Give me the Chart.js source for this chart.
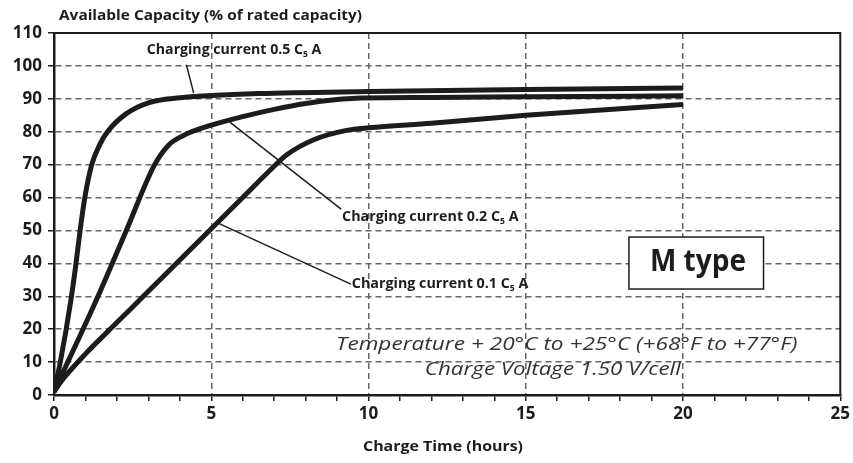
<!DOCTYPE html>
<html>
<head>
<meta charset="utf-8">
<script src="https://cdn.jsdelivr.net/npm/chart.js@4/dist/chart.umd.min.js"></script>
<style>
  html, body { margin: 0; padding: 0; background: #fff; }
  #wrap { width: 853px; height: 463px; position: relative; }
</style>
</head>
<body>
<div id="wrap"><canvas id="chart"></canvas></div>
<script>
// ─── DATA ────────────────────────────────────────────────────────────────
const xTicks = [0, 5, 10, 15, 20, 25];
const yTicks = [0, 10, 20, 30, 40, 50, 60, 70, 80, 90, 100, 110];

const seriesNames = ['Charging current 0.5 C', 'Charging current 0.2 C', 'Charging current 0.1 C'];

const c05Hours = [0, 0.2, 0.54, 0.7, 0.83, 0.98, 1.2, 1.45, 1.7, 2.3, 3, 4, 5, 6.5, 10, 15, 20];
const c05Cap   = [1, 10, 29, 40, 50, 60, 70, 76, 80, 85.5, 88.8, 90.3, 91, 91.6, 92.2, 92.8, 93.3];

const c02Hours = [0, 1.4, 2.3, 3.2, 3.65, 4.1, 5, 6, 7, 8, 9, 9.6, 12, 15, 20];
const c02Cap   = [1, 30, 50, 70, 76, 78.8, 82, 84.6, 86.8, 88.6, 89.8, 90.2, 90.4, 90.6, 90.9];

const c01Hours = [0, 0.3, 1, 2, 3, 4, 5, 6, 7, 7.4, 8.3, 9.3, 10, 12, 15, 20];
const c01Cap   = [1, 5, 12.5, 22, 31.5, 41, 50.5, 60, 69.5, 73, 77.7, 80.4, 81.2, 82.6, 85, 88.3];

const notes = ['Temperature + 20°C to +25°C (+68°F to +77°F)', 'Charge Voltage 1.50 V/cell'];

// ─── HELPERS ─────────────────────────────────────────────────────────────
const INK = '#1c1c1c';
const FONT = "'Open Sans', 'DejaVu Sans', sans-serif";

function pts(xs, ys) { return xs.map((x, i) => ({ x, y: ys[i] })); }

function curve(label, xs, ys) {
  return {
    label, data: pts(xs, ys),
    borderColor: INK, borderWidth: 5, pointRadius: 0,
    cubicInterpolationMode: 'monotone', fill: false, borderCapStyle: 'butt'
  };
}

// draw text squeezed/stretched to a given width, left edge at x, middle at y
function fitText(ctx, parts, x, y, w) {
  let total = 0;
  parts.forEach(p => { ctx.font = p.font; total += ctx.measureText(p.t).width; });
  ctx.save();
  ctx.translate(x, y);
  ctx.scale(w / total, 1);
  ctx.textAlign = 'left'; ctx.textBaseline = 'middle';
  let cx = 0;
  parts.forEach(p => {
    ctx.font = p.font;
    ctx.fillText(p.t, cx, p.dy || 0);
    cx += ctx.measureText(p.t).width;
  });
  ctx.restore();
}

function subParts(text, size) {
  const b = 'bold ' + size + 'px ' + FONT;
  return [{ t: text, font: b }, { t: '5', font: 'bold ' + Math.round(size * 0.6) + 'px ' + FONT, dy: size * 0.3 }, { t: ' A', font: b }];
}

const decor = {
  id: 'decor',
  afterDatasetsDraw(chart) {
    const { ctx, chartArea: a, scales: { x, y } } = chart;
    const px = v => x.getPixelForValue(v), py = v => y.getPixelForValue(v);
    ctx.save();
    // frame top + right
    ctx.strokeStyle = INK; ctx.lineWidth = 2;
    ctx.beginPath();
    ctx.moveTo(a.left, a.top); ctx.lineTo(a.right, a.top); ctx.lineTo(a.right, a.bottom);
    ctx.stroke();

    // leader lines
    ctx.lineWidth = 1.5;
    const leaders = [[4.21, 100.3, 4.44, 91.8], [5.58, 83, 9.13, 56.5], [5.2, 52.3, 9.44, 33.7]];
    leaders.forEach(l => {
      ctx.beginPath(); ctx.moveTo(px(l[0]), py(l[1])); ctx.lineTo(px(l[2]), py(l[3])); ctx.stroke();
    });

    ctx.fillStyle = INK;
    fitText(ctx, subParts(seriesNames[0], 15), px(2.95), py(104.8), px(8.5) - px(2.95));
    fitText(ctx, subParts(seriesNames[1], 15), px(9.16), py(54.2), px(14.77) - px(9.16));
    fitText(ctx, subParts(seriesNames[2], 15), px(9.47), py(33.7), px(15.08) - px(9.47));

    // conditions text
    ctx.fillStyle = '#333';
    const it = 'italic 19px ' + FONT;
    fitText(ctx, [{ t: notes[0], font: it }], px(8.97), py(15.2), px(23.64) - px(8.97));
    fitText(ctx, [{ t: notes[1], font: it }], px(11.79), py(7.6), px(19.93) - px(11.79));

    // M type box
    const bx = px(18.28), by = py(48), bw = px(22.56) - bx, bh = py(32.2) - by;
    ctx.fillStyle = '#fff'; ctx.fillRect(bx, by, bw, bh);
    ctx.strokeStyle = INK; ctx.lineWidth = 1.5; ctx.strokeRect(bx, by, bw, bh);
    ctx.fillStyle = INK;
    fitText(ctx, [{ t: 'M type', font: 'bold 31px ' + FONT }], bx + 21, by + bh / 2 - 1, 96);

    // axis titles
    fitText(ctx, [{ t: 'Available Capacity (% of rated capacity)', font: 'bold 15px ' + FONT }], 59, 16, 303);
    fitText(ctx, [{ t: 'Charge Time (hours)', font: 'bold 15px ' + FONT }], 363, 447, 160);
    ctx.restore();
  }
};

// ─── CHART ───────────────────────────────────────────────────────────────
new Chart(document.getElementById('chart'), {
  type: 'line',
  data: {
    datasets: [
      curve(seriesNames[0], c05Hours, c05Cap),
      curve(seriesNames[1], c02Hours, c02Cap),
      curve(seriesNames[2], c01Hours, c01Cap)
    ]
  },
  options: {
    responsive: true, maintainAspectRatio: false, animation: false,
    layout: { padding: { top: 33, right: 10, left: 0, bottom: 0 } },
    plugins: { legend: { display: false }, tooltip: { enabled: false } },
    scales: {
      x: {
        type: 'linear', min: xTicks[0], max: xTicks[xTicks.length - 1],
        afterFit: s => { s.height = 68; },
        afterBuildTicks: s => { s.ticks = Array.from({ length: 26 }, (_, i) => ({ value: i })); },
        ticks: {
          autoSkip: false, maxRotation: 0, padding: 3, color: INK,
          font: { family: FONT, size: 17, weight: 'bold' },
          callback: v => xTicks.includes(v) ? String(v) : ''
        },
        grid: {
          color: c => (c.tick && c.tick.value % 5 === 0 && c.tick.value > 0 && c.tick.value < 25) ? '#666' : 'rgba(0,0,0,0)',
          lineWidth: 1.5, tickColor: INK, tickLength: 6, tickWidth: 1.5
        },
        border: { display: true, color: INK, width: 2.5, dash: [6, 4] }
      },
      y: {
        min: yTicks[0], max: yTicks[yTicks.length - 1],
        afterFit: s => { s.width = 54; },
        afterBuildTicks: s => { s.ticks = yTicks.map(v => ({ value: v })); },
        ticks: {
          padding: 6, color: INK,
          font: { family: FONT, size: 17, weight: 'bold' }
        },
        grid: {
          color: c => (c.tick && c.tick.value > 0 && c.tick.value < 110) ? '#666' : 'rgba(0,0,0,0)',
          lineWidth: 1.5, tickColor: INK, tickLength: 6, tickWidth: 1.5
        },
        border: { display: true, color: INK, width: 2.5, dash: [6, 4] }
      }
    }
  },
  plugins: [decor]
});
</script>
</body>
</html>
